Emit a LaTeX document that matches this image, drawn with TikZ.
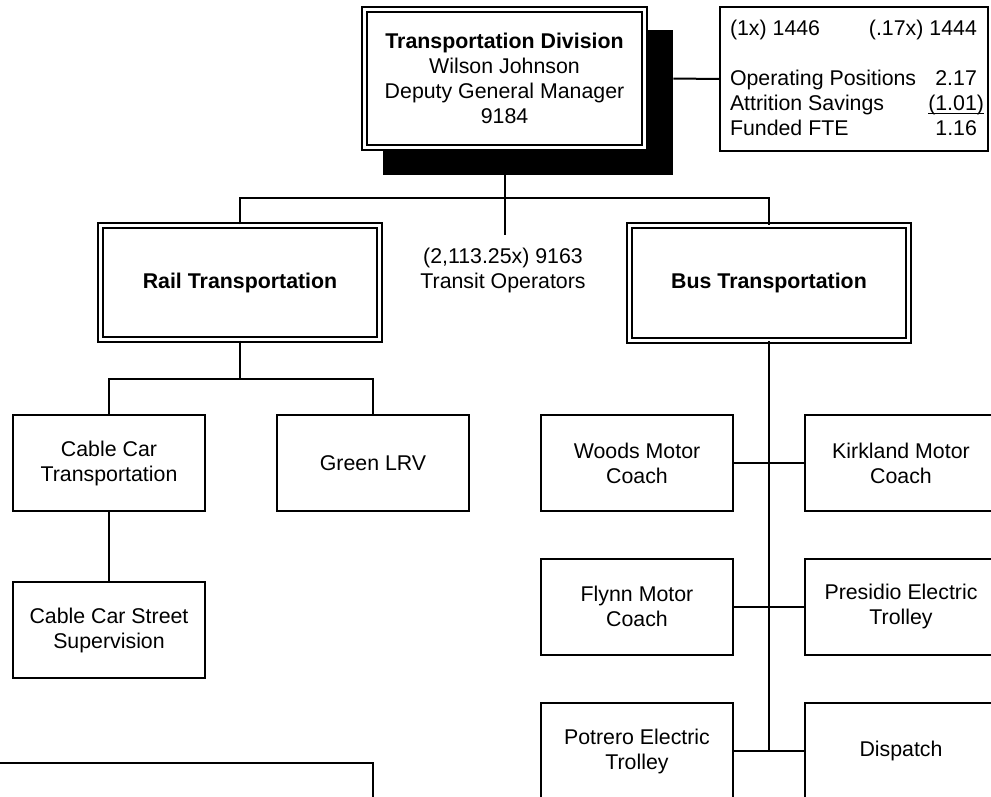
\documentclass[tikz,border=0pt]{standalone}
\usepackage{fontspec}
\setmainfont{Liberation Sans}
\begin{document}
\begin{tikzpicture}[x=0.75pt,y=-0.75pt,
  every node/.style={font=\fontsize{16}{18.75}\selectfont},
  conn/.style={line width=1.5pt},
  plainbox/.style={draw,line width=1.5pt,fill=white,minimum width=144pt,minimum height=72pt,inner sep=0pt,align=center},
  dblbox/.style={draw,line width=1.4pt,double,double distance=2.2pt,fill=white,inner sep=0pt,align=center},
  shadowbox/.style={fill=black,inner sep=0pt,minimum width=217.5pt,minimum height=108.75pt},
  infobox/.style={draw,line width=1.5pt,fill=white,inner sep=0pt,minimum width=201pt,minimum height=108pt},
  plaintext/.style={inner sep=0pt,align=center}
]
\clip (0,0) rectangle (991,796);
% top
\node[shadowbox] (shadow) at (528,102.5) {};
\node[dblbox,minimum width=210pt,minimum height=103.7pt] (top) at (504.5,78.5)
  {\textbf{Transportation Division}\\Wilson Johnson\\Deputy General Manager\\9184};
\node[infobox] (info) at (854,79) {};
\node[inner sep=0pt] (infotext) at (857,80) {\begin{tabular*}{190.5pt}{@{}l@{\extracolsep{0pt plus 1fil}}r@{}}
\multicolumn{2}{@{}l@{}}{\makebox[190.5pt][s]{(1x) 1446\hfill(.17x) 1444\phantom{)}}}\\
 & \\
Operating Positions & 2.17\phantom{)}\\
Attrition Savings & \underline{\smash{(1.01)}\rule[-1pt]{0pt}{1pt}}\\
Funded FTE & 1.16\phantom{)}
\end{tabular*}};
\coordinate (hub) at (504.5,198);
\coordinate (opsend) at (504.5,235);
\node[plaintext] (ops) at (503,270) {(2,113.25x) 9163\\Transit Operators};
% second level
\node[dblbox,minimum width=209.5pt,minimum height=85.8pt] (rail) at (240,282.5) {\textbf{Rail Transportation}};
\node[dblbox,minimum width=209.5pt,minimum height=85.8pt] (bus) at (769,283) {\textbf{Bus Transportation}};
% rail children
\coordinate (railhub) at (240,379);
\node[plainbox] (cct) at (109,463) {Cable Car\\Transportation};
\node[plainbox] (glrv) at (373,463) {Green LRV};
\node[plainbox] (ccss) at (109,630) {Cable Car Street\\Supervision};
% bus children
\coordinate (busend) at (769,751);
\node[plainbox] (woods) at (637,463) {Woods Motor\\Coach};
\node[plainbox] (kirk) at (901,463) {Kirkland Motor\\Coach};
\node[plainbox] (flynn) at (637,606.5) {Flynn Motor\\Coach};
\node[plainbox] (presidio) at (901,606.5) {Presidio Electric\\Trolley};
\node[plainbox] (potrero) at (637,751) {Potrero Electric\\Trolley};
\node[plainbox] (dispatch) at (901,751) {Dispatch};
% bottom-left box (cut off)
\node[plainbox,minimum width=302.25pt] (blbox) at (171.5,811) {};
% connectors
\draw[conn] (top.east -| shadow.east) -- (info.west);
\draw[conn] (shadow.south -| top.south) -- (opsend);
\draw[conn] (rail.north) |- (hub) -| (bus.north);
\draw[conn] (rail.south) -- (railhub);
\draw[conn] (cct.north) |- (railhub) -| (glrv.north);
\draw[conn] (cct.south) -- (ccss.north);
\draw[conn] (bus.south) -- (busend);
\draw[conn] (woods.east) -- (kirk.west);
\draw[conn] (flynn.east) -- (presidio.west);
\draw[conn] (potrero.east) -- (dispatch.west);
\end{tikzpicture}
\end{document}
